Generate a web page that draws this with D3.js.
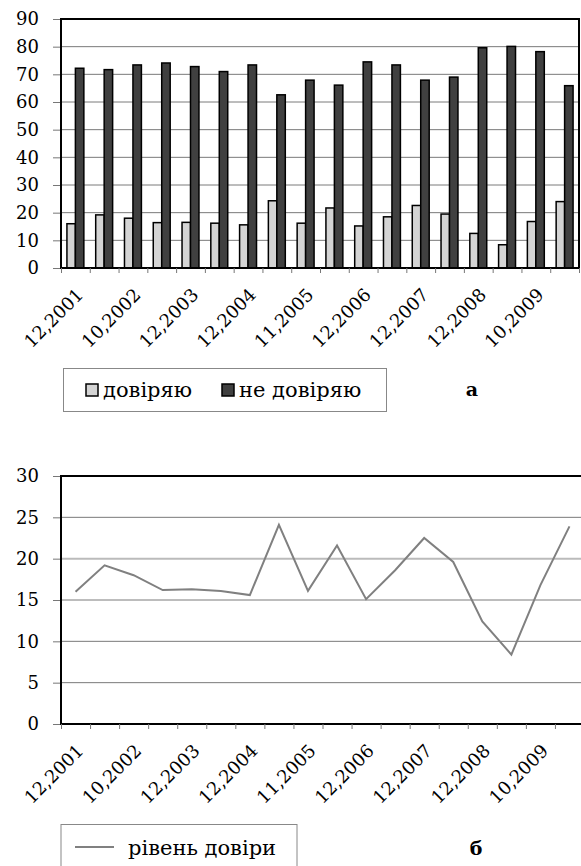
<!DOCTYPE html>
<html>
<head>
<meta charset="utf-8">
<script src="https://cdn.jsdelivr.net/npm/d3@7"></script>
<style>
  body { margin: 0; background: #fff; }
  svg { display: block; }
</style>
</head>
<body>
<svg id="chart" width="581" height="866"></svg>
<script>
// data
const tickLabels = ['12,2001', '', '10,2002', '', '12,2003', '', '12,2004', '', '11,2005', '',
  '12,2006', '', '12,2007', '', '12,2008', '', '10,2009', ''];
const trustValues = [16.0, 19.2, 18.0, 16.4, 16.5, 16.2, 15.6, 24.3, 16.2, 21.7,
  15.2, 18.5, 22.6, 19.5, 12.5, 8.4, 16.8, 24.0];
const distrustValues = [72.2, 71.7, 73.4, 74.1, 72.8, 71.0, 73.4, 62.6, 67.9, 66.1,
  74.5, 73.4, 67.9, 69.0, 79.6, 80.1, 78.2, 65.9];
const trustLevel = [16.0, 19.2, 18.0, 16.2, 16.3, 16.1, 15.6, 24.1, 16.1, 21.6,
  15.1, 18.6, 22.5, 19.6, 12.4, 8.4, 16.8, 23.9];
const yTicksTop = [0, 10, 20, 30, 40, 50, 60, 70, 80, 90];
const yTicksBottom = [0, 5, 10, 15, 20, 25, 30];
const seriesNames = ['довіряю', 'не довіряю'];
const lineName = 'рівень довіри';

const svg = d3.select('#chart');
const idx = d3.range(tickLabels.length);
const fontSize = 18;
// only serif face the renderer actually has
const serif = 'DejaVu Serif';

// helper: category axis with ticks on band edges and slanted labels
function drawCategoryAxis(g, x, y0) {
  const edges = d3.scaleLinear().domain([0, idx.length]).range(x.range());
  g.append('g')
    .attr('transform', `translate(0,${y0})`)
    .call(d3.axisBottom(edges).ticks(idx.length).tickFormat('').tickSize(5).tickSizeOuter(0))
    .call(a => a.select('.domain').remove())
    .call(a => a.selectAll('line').attr('stroke', '#777'));

  g.selectAll('text.xlab')
    .data(idx.filter(i => tickLabels[i] !== ''))
    .join('text')
    .attr('class', 'xlab')
    .attr('text-anchor', 'end')
    .style('font-family', serif)
    .attr('font-size', fontSize)
    .attr('transform', i => `translate(${x(i) + x.bandwidth() / 2 + 9},${y0 + 28}) rotate(-45)`)
    .text(i => tickLabels[i]);
}

// helper: value axis with grid
function drawValueAxis(g, y, ticks, x0, x1, lightTick) {
  g.selectAll('line.grid')
    .data(ticks.filter(t => t !== 0))
    .join('line')
    .attr('class', 'grid')
    .attr('x1', x0).attr('x2', x1)
    .attr('y1', d => y(d)).attr('y2', d => y(d))
    .attr('stroke', d => d === lightTick ? '#bbb' : '#7a7a7a')
    .attr('stroke-width', d => d === lightTick ? 2 : 1);

  g.append('g')
    .attr('transform', `translate(${x0},0)`)
    .call(d3.axisLeft(y).tickValues(ticks).tickSize(8).tickPadding(14).tickSizeOuter(0))
    .attr('font-size', fontSize)
    .call(a => a.select('.domain').remove())
    .call(a => a.selectAll('line').attr('stroke', '#777'))
    .call(a => a.selectAll('text').attr('fill', '#000').style('font-family', serif));
}

// ---- chart a: bars ----
const chartA = svg.append('g');
const xTop = d3.scaleBand().domain(idx).range([61, 579]);
const xSub = d3.scaleBand().domain([0, 1]).range([0, xTop.bandwidth()]).paddingOuter(0.7);
const yTop = d3.scaleLinear().domain([0, 90]).range([268, 19]);

drawValueAxis(chartA, yTop, yTicksTop, 61, 579, null);

const barSeries = [
  { values: trustValues, fill: '#d4d4d4' },
  { values: distrustValues, fill: '#404040' }
];
barSeries.forEach((s, k) => {
  chartA.append('g').selectAll('rect')
    .data(s.values)
    .join('rect')
    .attr('x', (d, i) => xTop(i) + xSub(k))
    .attr('y', d => yTop(d))
    .attr('width', xSub.bandwidth())
    .attr('height', d => yTop(0) - yTop(d))
    .attr('fill', s.fill)
    .attr('stroke', '#000')
    .attr('stroke-width', 1.5);
});

// frame
chartA.append('path')
  .attr('d', `M61,${yTop(0)}V${yTop(90)}H579V${yTop(0)}Z`)
  .attr('fill', 'none').attr('stroke', '#000').attr('stroke-width', 2);

drawCategoryAxis(chartA, xTop, yTop(0));

// legend a
chartA.append('rect')
  .attr('x', 63.5).attr('y', 368.5).attr('width', 323).attr('height', 43)
  .attr('fill', 'none').attr('stroke', '#888');
const legendX = [86, 222];
seriesNames.forEach((name, k) => {
  chartA.append('rect')
    .attr('x', legendX[k]).attr('y', 384).attr('width', 12).attr('height', 12)
    .attr('fill', barSeries[k].fill).attr('stroke', '#000').attr('stroke-width', 1.5);
  chartA.append('text')
    .attr('x', legendX[k] + 17).attr('y', 397)
    .style('font-family', serif)
    .attr('font-size', 21)
    .text(name);
});
chartA.append('text')
  .attr('x', 472).attr('y', 396)
  .attr('text-anchor', 'middle')
  .style('font-family', serif).attr('font-size', 19).attr('font-weight', 'bold')
  .text('а');

// ---- chart б: line ----
const chartB = svg.append('g');
const xBot = d3.scaleBand().domain(idx).range([61, 584]);
const yBot = d3.scaleLinear().domain([0, 30]).range([724, 476]);

drawValueAxis(chartB, yBot, yTicksBottom, 61, 584, 20);

chartB.append('path')
  .datum(trustLevel)
  .attr('fill', 'none')
  .attr('stroke', '#808080')
  .attr('stroke-width', 2)
  .attr('d', d3.line()
    .x((d, i) => xBot(i) + xBot.bandwidth() / 2)
    .y(d => yBot(d)));

chartB.append('path')
  .attr('d', `M584,${yBot(30)}H61V${yBot(0)}H584`)
  .attr('fill', 'none').attr('stroke', '#000').attr('stroke-width', 2);

drawCategoryAxis(chartB, xBot, yBot(0));

// legend б
chartB.append('rect')
  .attr('x', 61).attr('y', 824.5).attr('width', 236).attr('height', 60)
  .attr('fill', 'none').attr('stroke', '#888');
chartB.append('line')
  .attr('x1', 75).attr('x2', 114).attr('y1', 847).attr('y2', 847)
  .attr('stroke', '#808080').attr('stroke-width', 2);
chartB.append('text')
  .attr('x', 128).attr('y', 855)
  .style('font-family', serif).attr('font-size', 21)
  .text(lineName);
chartB.append('text')
  .attr('x', 476).attr('y', 855)
  .attr('text-anchor', 'middle')
  .style('font-family', serif).attr('font-size', 19).attr('font-weight', 'bold')
  .text('б');
</script>
</body>
</html>
